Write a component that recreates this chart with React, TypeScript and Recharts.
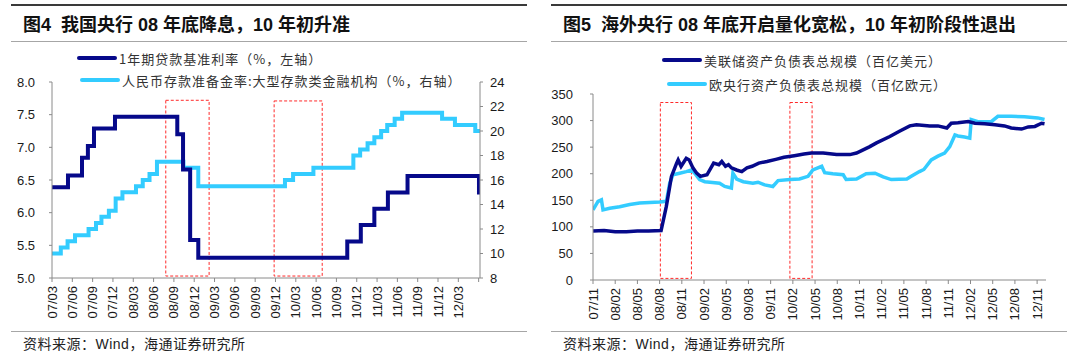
import React from "react";
import { LineChart, Line, XAxis, YAxis, ReferenceArea } from "recharts";

const NAVY = "#06098a";
const SKY = "#33ccff";
const RED = "#ff2a2a";
const AXIS = "#8a8a8a";
const TXT = "#1a1a1a";
const NUM_FONT = "'Liberation Sans', Arial, sans-serif";
const CJK_FONT = "'Liberation Sans', 'Noto Sans CJK SC', sans-serif";

// ---- 图4 : x = months after 2007/03 ----
const leftTickLabels = [
    "07/03", "07/06", "07/09", "07/12", "08/03", "08/06", "08/09", "08/12", "09/03", "09/06", "09/09",
    "09/12", "10/03", "10/06", "10/09", "10/12", "11/03", "11/06", "11/09", "11/12", "12/03"
];
const loanMonth = [0, 2.36, 4.43, 5.3, 6.2, 9.3, 18.5, 19.35, 20.4, 21.6, 43.6, 45.6, 47.6, 49.6, 52.5, 63.05, 63.2];
const loanRate = [6.39, 6.57, 6.84, 7.02, 7.29, 7.47, 7.2, 6.66, 5.58, 5.31, 5.56, 5.81, 6.06, 6.31, 6.56, 6.31, 6.31];
const rrrMonth = [
    0, 1.3, 2.3, 3.4, 5.4, 6.5, 7.3, 8.4, 9.4, 10.4, 12.4, 13.4, 14.4, 15.5, 19.4, 21.6, 34.4, 35.6, 38.6,
    44.5, 45.5, 46.6, 47.6, 48.6, 49.5, 50.6, 51.7, 57.6, 59.5, 62.5, 63.2
];
const rrrValue = [
    10, 10.5, 11, 11.5, 12, 12.5, 13, 13.5, 14.5, 15, 15.5, 16, 16.5, 17.5, 17, 15.5, 16, 16.5, 17,
    18, 18.5, 19, 19.5, 20, 20.5, 21, 21.5, 21, 20.5, 20, 20
];
// highlighted periods (months, left-axis values)
const leftBoxes = [
    { x1: 16.8, x2: 23.2, y1: 5.03, y2: 7.72 },
    { x1: 32.8, x2: 39.9, y1: 5.03, y2: 7.71 }
];

// ---- 图5 : x = months after 2007/11 ----
const rightTickLabels = [
    "07/11", "08/02", "08/05", "08/08", "08/11", "09/02", "09/05", "09/08", "09/11", "10/02", "10/05",
    "10/08", "10/11", "11/02", "11/05", "11/08", "11/11", "12/02", "12/05", "12/08", "12/11"
];
const fedMonth = [
    0, 1.5, 3, 4.5, 6, 7.5, 9.2, 9.9, 10.6, 11.3, 11.5, 11.9, 12.6, 13.0, 13.5, 14.0, 14.5, 15.4, 16.3,
    17.0, 17.4, 17.9, 18.3, 18.7, 19.4, 20.1, 20.8, 21.5, 22.4, 23.5, 24.7, 25.8, 27.2, 28.5, 29.5, 31.1,
    32.9, 34.7, 35.6, 36.5, 37.4, 38.3, 40.1, 41.4, 42.8, 43.7, 45.5, 46.6, 47.8, 48.4, 49.3, 50.7, 51.6,
    52.9, 54.3, 55.6, 56.5, 57.9, 58.8, 59.7, 60.6, 61.0
];
const fedValue = [
    92, 93, 91, 91, 92, 92, 93, 138, 195, 220, 226, 214, 229, 226, 211, 201, 195, 198, 220,
    217, 223, 214, 217, 211, 207, 204, 211, 214, 220, 223, 227, 231, 234, 237, 239, 239,
    236, 236, 239, 245, 251, 258, 270, 280, 290, 292, 290, 290, 286, 295, 296, 298, 295,
    294, 292, 290, 286, 284, 288, 289, 295, 294
];
const ecbMonth = [
    0, 0.68, 1.14, 1.35, 2.26, 3.6, 4.96, 6.3, 7.66, 9.0, 9.92, 10.36, 10.8, 11.7, 12.6, 13.3, 13.74,
    14.4, 15.1, 15.8, 17.1, 17.8, 18.7, 18.9, 19.4, 20.3, 21.6, 22.3, 23.2, 24.3, 25.0, 26.6, 27.9,
    29.05, 29.7, 30.9, 31.3, 32.4, 33.8, 34.2, 35.6, 36.9, 38.1, 39.2, 40.3, 42.4, 43.0, 44.1, 44.7,
    45.7, 46.6, 47.5, 48.2, 48.9, 49.3, 50.2, 50.9, 51.1, 52.0, 53.8, 54.7, 56.5, 58.3, 60.1, 61.0
];
const ecbValue = [
    132, 148, 151, 132, 135, 138, 142, 145, 146, 147, 148, 182, 198, 201, 204, 207, 201,
    189, 185, 184, 182, 176, 173, 201, 190, 185, 182, 184, 179, 176, 187, 189, 190,
    195, 207, 214, 202, 200, 198, 189, 190, 200, 201, 194, 189, 190, 195, 204, 208,
    226, 233, 239, 251, 273, 271, 269, 267, 302, 298, 298, 308, 308, 307, 305, 302
];
const rightBoxes = [
    { x1: 9.1, x2: 13.3, y1: 3, y2: 334 },
    { x1: 26.6, x2: 29.6, y1: 3, y2: 334 }
];

const toPoints = (xs: number[], ys: number[]) => xs.map((m, i) => ({ m, v: ys[i] }));

const loanData = toPoints(loanMonth, loanRate);
const rrrData = toPoints(rrrMonth, rrrValue);
const fedData = toPoints(fedMonth, fedValue);
const ecbData = toPoints(ecbMonth, ecbValue);

const leftTicks = [...leftTickLabels, ""].map((_, i) => i * 3);
const rightTicks = rightTickLabels.map((_, i) => i * 3);

function MonthTick(props: any) {
    const { x, y, payload, labels } = props;
    const label = labels[Math.round(payload.value / 3)] ?? "";
    return (
        <text
            x={x}
            y={y}
            transform={`rotate(-90 ${x} ${y})`}
            textAnchor="end"
            dy="0.35em"
            fontSize={13}
            fill={TXT}
            fontFamily={NUM_FONT}
        >
            {label}
        </text>
    );
}

const tickStyle = { fontSize: 13, fill: TXT, fontFamily: NUM_FONT };

// axis props; when `ghost` the axes keep their size but draw nothing
const axisLook = (ghost: boolean) =>
    ghost
        ? { axisLine: false, tickLine: false, tick: false }
        : { axisLine: { stroke: AXIS }, tickLine: { stroke: AXIS } };

const dashedBox = { fill: "none", fillOpacity: 0, stroke: RED, strokeWidth: 1, strokeDasharray: "3 2" };

function LeftChart({ ghost }: { ghost: boolean }) {
    const look = axisLook(ghost);
    const op = ghost ? 0 : 1;
    return (
        <LineChart width={540} height={361} margin={{ top: 82, left: 12, right: 20, bottom: 33 }}>
            <XAxis
                dataKey="m"
                type="number"
                domain={[0, 63.2]}
                ticks={leftTicks}
                interval={0}
                allowDataOverflow
                height={50}
                tickSize={4}
                tickMargin={4}
                tick={(p: any) => <MonthTick {...p} labels={leftTickLabels} />}
                {...look}
            />
            <YAxis
                yAxisId="l"
                domain={[5, 8]}
                ticks={[5, 5.5, 6, 6.5, 7, 7.5, 8]}
                tickFormatter={(v: number) => v.toFixed(1)}
                width={40}
                tickSize={3}
                tickMargin={14}
                tick={tickStyle}
                {...look}
            />
            <YAxis
                yAxisId="r"
                orientation="right"
                domain={[8, 24]}
                ticks={[8, 10, 12, 14, 16, 18, 20, 22, 24]}
                width={40}
                tickSize={3}
                tickMargin={7}
                tick={tickStyle}
                {...look}
            />
            {ghost && leftBoxes.map((b, i) => <ReferenceArea key={i} yAxisId="l" {...b} {...dashedBox} />)}
            <Line yAxisId="r" data={rrrData} dataKey="v" type="stepAfter" stroke={SKY} strokeOpacity={op} strokeWidth={4} dot={false} isAnimationActive={false} />
            <Line yAxisId="l" data={loanData} dataKey="v" type="stepAfter" stroke={NAVY} strokeOpacity={op} strokeWidth={4} dot={false} isAnimationActive={false} />
        </LineChart>
    );
}

function RightChart({ ghost }: { ghost: boolean }) {
    const look = axisLook(ghost);
    const op = ghost ? 0 : 1;
    return (
        <LineChart width={540} height={361} margin={{ top: 94, left: 13, right: 34, bottom: 31 }}>
            <XAxis
                dataKey="m"
                type="number"
                domain={[0, 61.2]}
                ticks={rightTicks}
                interval={0}
                allowDataOverflow
                height={50}
                tickSize={4}
                tickMargin={4}
                tick={(p: any) => <MonthTick {...p} labels={rightTickLabels} />}
                {...look}
            />
            <YAxis
                domain={[0, 350]}
                ticks={[0, 50, 100, 150, 200, 250, 300, 350]}
                width={40}
                tickSize={3}
                tickMargin={17}
                tick={tickStyle}
                {...look}
            />
            {ghost && rightBoxes.map((b, i) => <ReferenceArea key={i} {...b} {...dashedBox} />)}
            <Line data={ecbData} dataKey="v" type="linear" stroke={SKY} strokeOpacity={op} strokeWidth={3.5} dot={false} isAnimationActive={false} />
            <Line data={fedData} dataKey="v" type="linear" stroke={NAVY} strokeOpacity={op} strokeWidth={3.5} dot={false} isAnimationActive={false} />
        </LineChart>
    );
}

function Frame({ left, title }: { left: number; title: string }) {
    return (
        <>
            <div style={{ position: "absolute", left: left + 11, top: 4, width: 516, height: 2, background: "#3a3a3a" }} />
            <div
                style={{
                    position: "absolute", left: left + 23, top: 13, fontSize: 18, fontWeight: 700,
                    fontFamily: CJK_FONT, color: "#111", whiteSpace: "pre", lineHeight: "24px"
                }}
            >
                {title}
            </div>
            <div style={{ position: "absolute", left: left + 11, top: 41, width: 516, height: 1, background: "#a6a6a6" }} />
            <div style={{ position: "absolute", left: left + 11, top: 331, width: 516, height: 1, background: "#a6a6a6" }} />
            <div
                style={{
                    position: "absolute", left: left + 23, top: 334, fontSize: 14, letterSpacing: 0.5,
                    fontFamily: CJK_FONT, color: "#222", lineHeight: "20px", whiteSpace: "pre"
                }}
            >
                资料来源：Wind，海通证券研究所
            </div>
        </>
    );
}

function LegendItem({ x, y, color, text }: { x: number; y: number; color: string; text: string }) {
    return (
        <div style={{ position: "absolute", left: x, top: y - 9, height: 18, display: "flex", alignItems: "center" }}>
            <div style={{ width: 40, height: 4, background: color, borderRadius: 2 }} />
            <span
                style={{
                    marginLeft: 2, fontSize: 13, letterSpacing: 1, fontFamily: "'Noto Sans CJK SC', sans-serif",
                    color: "#333", whiteSpace: "pre"
                }}
            >
                {text}
            </span>
        </div>
    );
}

const layer = (left: number): React.CSSProperties => ({ position: "absolute", left, top: 0 });

export default function App() {
    return (
        <div style={{ position: "absolute", left: 0, top: 0, width: 1080, height: 361, background: "#fff", overflow: "hidden" }}>
            <Frame left={0} title={"图4  我国央行 08 年底降息，10 年初升准"} />
            <Frame left={540} title={"图5  海外央行 08 年底开启量化宽松，10 年初阶段性退出"} />

            {/* 图4: dashed boxes underneath, lines and axes on top */}
            <div style={layer(0)}>
                <LeftChart ghost />
            </div>
            <div style={layer(0)}>
                <LeftChart ghost={false} />
            </div>
            <LegendItem x={77} y={58} color={NAVY} text="1年期贷款基准利率（%，左轴）" />
            <LegendItem x={80} y={80} color={SKY} text="人民币存款准备金率:大型存款类金融机构（%，右轴）" />

            {/* 图5 */}
            <div style={layer(540)}>
                <RightChart ghost />
            </div>
            <div style={layer(540)}>
                <RightChart ghost={false} />
            </div>
            <LegendItem x={662} y={60} color={NAVY} text="美联储资产负债表总规模（百亿美元）" />
            <LegendItem x={667} y={84} color={SKY} text="欧央行资产负债表总规模（百亿欧元）" />
        </div>
    );
}
